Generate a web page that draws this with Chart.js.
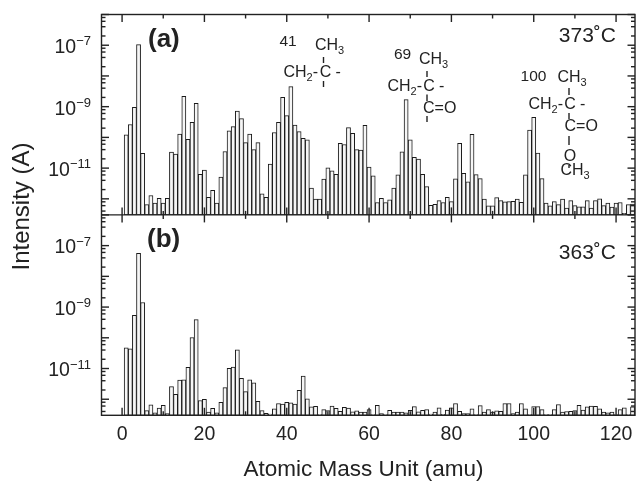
<!DOCTYPE html>
<html>
<head>
<meta charset="utf-8">
<style>
  body { margin: 0; background: #fff; }
  canvas { display: block; }
</style>
<script src="https://cdn.jsdelivr.net/npm/chart.js@4/dist/chart.umd.min.js"></script>
</head>
<body>
<canvas id="chart" width="636" height="481"></canvas>
<script>
// log10 of the intensity for amu 1, 2, 3 ... 124
const logIntensity373 = [
  -9.92, -9.58, -9.02, -6.98, -10.52, -12.19, -11.89, -12.14, -11.98, -12.14,
  -11.98, -10.48, -10.54, -9.89, -8.66, -10.06, -9.51, -8.89, -11.20, -11.06,
  -11.95, -11.72, -12.14, -11.29, -10.46, -9.79, -9.65, -9.14, -9.39, -10.17,
  -9.89, -10.40, -10.17, -11.84, -11.95, -10.87, -9.84, -9.51, -8.70, -9.29,
  -8.35, -9.60, -9.81, -10.03, -10.08, -11.65, -12.01, -12.01, -11.36, -10.99,
  -11.09, -11.20, -10.19, -10.23, -9.68, -9.87, -10.40, -10.41, -9.61, -10.97,
  -11.25, -12.12, -11.98, -12.12, -12.03, -11.65, -11.22, -10.47, -8.77, -10.08,
  -10.65, -10.71, -11.20, -11.60, -12.21, -12.18, -12.06, -12.12, -11.95, -12.09,
  -11.35, -10.19, -11.17, -11.45, -9.90, -11.21, -11.34, -12.01, -12.23, -12.23,
  -11.96, -12.06, -12.10, -12.09, -12.08, -12.01, -12.11, -11.22, -9.76, -9.35,
  -10.51, -11.34, -12.14, -12.23, -12.09, -12.19, -12.01, -12.30, -12.06, -12.22,
  -12.26, -12.26, -12.06, -12.30, -12.06, -12.00, -12.22, -12.14, -12.27, -12.14,
  -12.12, -12.47, -12.19, -12.17
];
const logIntensity363 = [
  -10.33, -10.36, -9.27, -7.25, -8.85, -12.37, -12.18, -12.44, -12.29, -12.20,
  -12.47, -11.59, -11.84, -11.38, -11.37, -10.96, -9.99, -9.41, -12.04, -12.00,
  -12.42, -12.30, -12.44, -12.10, -11.62, -10.99, -10.95, -10.39, -11.32, -11.75,
  -11.37, -11.47, -12.07, -12.37, -12.46, -12.48, -12.31, -12.14, -12.16, -12.10,
  -12.12, -12.16, -11.71, -11.25, -11.99, -12.25, -12.23, -12.50, -12.34, -12.37,
  -12.22, -12.30, -12.39, -12.26, -12.29, -12.41, -12.38, -12.42, -12.42, -12.34,
  -12.50, -12.20, -12.47, -12.50, -12.36, -12.42, -12.42, -12.42, -12.44, -12.36,
  -12.24, -12.41, -12.36, -12.34, -12.48, -12.42, -12.28, -12.49, -12.35, -12.28,
  -12.14, -12.39, -12.47, -12.47, -12.31, -12.50, -12.21, -12.42, -12.34, -12.42,
  -12.38, -12.39, -12.14, -12.14, -12.47, -12.42, -12.14, -12.31, -12.50, -12.24,
  -12.24, -12.34, -12.50, -12.50, -12.34, -12.17, -12.42, -12.40, -12.39, -12.37,
  -12.20, -12.35, -12.25, -12.22, -12.23, -12.31, -12.42, -12.44, -12.42, -12.50,
  -12.34, -12.28, -12.50, -12.25
];
const yLabelExponents = [-7, -9, -11];
const xLabelValues = [0, 20, 40, 60, 80, 100, 120];
const yAxisMin = 10 ** -12.5;
const yAxisMax = 1e-6;

const INK = '#222';
const FONT = '"Liberation Sans", Arial, sans-serif';

function toPoints(logs) {
  return logs.map((v, i) => ({ x: i + 1, y: 10 ** v }));
}

// decades plus 2, 4, 6, 8 in between
function logTicks(scale) {
  const ticks = [];
  for (let e = -13; e <= -6; e++) {
    [1, 2, 4, 6, 8].forEach(m => {
      const value = m * 10 ** e;
      if (value >= yAxisMin * 0.999 && value <= yAxisMax * 1.001) ticks.push({ value, major: m === 1 });
    });
  }
  scale.ticks = ticks;
}

function yAxis() {
  return {
    type: 'logarithmic',
    position: 'left',
    stack: 'panels',
    stackWeight: 1,
    min: yAxisMin,
    max: yAxisMax,
    afterBuildTicks: logTicks,
    afterFit(scale) { scale.width = 101.5; },
    grid: { display: false },
    border: { display: false },
    ticks: { display: false }
  };
}

function line(ctx, x1, y1, x2, y2) {
  ctx.beginPath();
  ctx.moveTo(x1, y1);
  ctx.lineTo(x2, y2);
  ctx.stroke();
}

function text(ctx, str, x, y, size, opts = {}) {
  ctx.font = `${opts.bold ? 'bold ' : ''}${size}px ${FONT}`;
  ctx.textAlign = opts.align || 'left';
  ctx.textBaseline = 'middle';
  ctx.fillText(str, x, y);
}

// "10" with a raised exponent, right edge at x
function powerLabel(ctx, exponent, x, y) {
  const sup = '\u2212' + Math.abs(exponent);
  text(ctx, sup, x, y - 3.5, 13, { align: 'right' });
  const w = ctx.measureText(sup).width;
  text(ctx, '10', x - w, y + 2.5, 19.5, { align: 'right' });
}

// "CH" with a small index below the line
function group(ctx, str, sub, x, y) {
  text(ctx, str, x, y, 16);
  const w = ctx.measureText(str).width;
  text(ctx, sub, x + w, y + 5, 11);
  return x + w + ctx.measureText(sub).width;
}

function backbone(ctx, x, y, cx) {
  const end = group(ctx, 'CH', '2', x, y);
  text(ctx, '-', end, y, 16);
  text(ctx, 'C', cx, y, 16, { align: 'center' });
  text(ctx, '-', cx + 10, y, 16);
}

const annotations = {
  id: 'annotations',
  afterDatasetsDraw(chart) {
    const { ctx, chartArea: area, scales } = chart;
    const mid = scales.ya.bottom;
    ctx.save();
    ctx.strokeStyle = INK;
    ctx.fillStyle = INK;
    ctx.lineWidth = 1.4;

    // frame
    ctx.strokeRect(area.left, area.top, area.width, area.height);
    line(ctx, area.left, mid, area.right, mid);

    // y ticks point inward on both sides, labels every second decade
    [scales.ya, scales.yb].forEach(scale => {
      scale.ticks.forEach(t => {
        const y = scale.getPixelForValue(t.value);
        const len = t.major ? 7.5 : 4;
        line(ctx, area.left, y, area.left + len, y);
        line(ctx, area.right, y, area.right - len, y);
      });
      yLabelExponents.forEach(e => powerLabel(ctx, e, 91, scale.getPixelForValue(10 ** e)));
    });

    // x ticks on every horizontal edge
    scales.x.ticks.forEach(t => {
      const x = scales.x.getPixelForValue(t.value);
      const len = t.value % 20 === 0 ? 7.5 : 4;
      line(ctx, x, area.top, x, area.top + len);
      line(ctx, x, mid - len, x, mid + len);
      line(ctx, x, area.bottom, x, area.bottom - len);
    });

    // axis titles
    text(ctx, 'Atomic Mass Unit (amu)', 363.5, 470, 22.5, { align: 'center' });
    ctx.save();
    ctx.translate(22, 206.5);
    ctx.rotate(-Math.PI / 2);
    text(ctx, 'Intensity (A)', 0, 0, 24, { align: 'center' });
    ctx.restore();

    // panel labels
    text(ctx, '(a)', 148, 40, 26, { bold: true });
    text(ctx, '(b)', 147, 240, 26, { bold: true });
    text(ctx, '373˚C', 616, 36, 21, { align: 'right' });
    text(ctx, '363˚C', 616, 253, 21, { align: 'right' });

    // fragment at 41
    text(ctx, '41', 288, 42, 15.5, { align: 'center' });
    group(ctx, 'CH', '3', 315, 46);
    line(ctx, 323.5, 57, 323.5, 63);
    backbone(ctx, 283.5, 73, 325.5);
    line(ctx, 323.5, 81, 323.5, 87);

    // fragment at 69
    text(ctx, '69', 402.5, 55, 15.5, { align: 'center' });
    group(ctx, 'CH', '3', 419, 59.5);
    line(ctx, 427, 71, 427, 77);
    backbone(ctx, 387.5, 87, 429);
    line(ctx, 427, 94.5, 427, 101);
    text(ctx, 'C=O', 423, 108.5, 16);
    line(ctx, 427, 116, 427, 122);

    // fragment at 100
    text(ctx, '100', 533.5, 77, 15.5, { align: 'center' });
    group(ctx, 'CH', '3', 557.5, 78);
    line(ctx, 569, 88, 569, 95);
    backbone(ctx, 528.5, 105, 570);
    line(ctx, 569, 113, 569, 119);
    text(ctx, 'C=O', 564.5, 126.5, 16);
    line(ctx, 569, 136, 569, 145);
    text(ctx, 'O', 570, 156.5, 16, { align: 'center' });
    line(ctx, 569, 165, 569, 168);
    group(ctx, 'CH', '3', 560.5, 170.5);

    ctx.restore();
  }
};

const barStyle = {
  grouped: false,
  barPercentage: 1,
  categoryPercentage: 1,
  backgroundColor: '#f6f6f6',
  borderColor: '#1a1a1a',
  borderWidth: 1,
  borderSkipped: false
};

new Chart(document.getElementById('chart'), {
  type: 'bar',
  data: {
    datasets: [
      { label: '373 C', data: toPoints(logIntensity373), yAxisID: 'ya', ...barStyle },
      { label: '363 C', data: toPoints(logIntensity363), yAxisID: 'yb', ...barStyle }
    ]
  },
  options: {
    responsive: false,
    animation: false,
    devicePixelRatio: 1,
    layout: { padding: { top: 14.5, right: 1, left: 0, bottom: 0 } },
    plugins: { legend: { display: false }, tooltip: { enabled: false } },
    scales: {
      x: {
        type: 'linear',
        offset: false,
        min: -5,
        max: 124.6,
        afterFit(scale) { scale.height = 65.7; },
        grid: { display: false },
        border: { display: false },
        ticks: {
          stepSize: 10,
          includeBounds: false,
          autoSkip: false,
          maxRotation: 0,
          padding: 0,
          color: INK,
          font: { family: FONT, size: 19.5 },
          callback: v => (xLabelValues.includes(v) ? String(v) : '')
        }
      },
      // the last axis of a stack ends up on top
      yb: yAxis(),
      ya: yAxis()
    }
  },
  plugins: [annotations]
});
</script>
</body>
</html>
